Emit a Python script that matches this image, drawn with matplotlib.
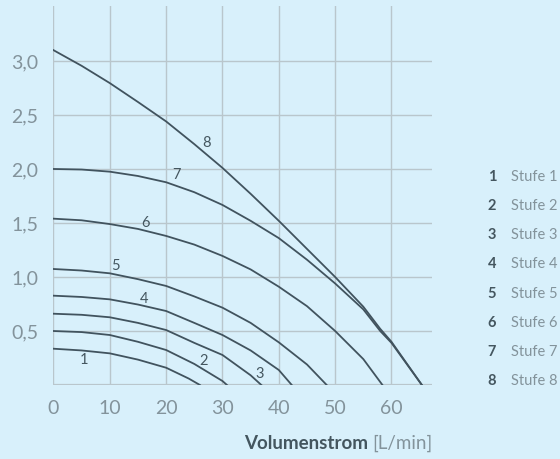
import numpy as np
import matplotlib
matplotlib.use("Agg")
import matplotlib.pyplot as plt

plt.rcParams['font.family'] = ['Lato', 'DejaVu Sans']

# Kennlinien (Volumenstrom L/min, Förderhöhe) je Stufe
stufe1_x = [0, 5, 10, 15, 20, 24, 26]
stufe1_y = [0.336, 0.32, 0.293, 0.235, 0.16, 0.06, 0]
stufe2_x = [0, 5, 10, 15, 20, 25, 30, 30.8]
stufe2_y = [0.5, 0.49, 0.463, 0.4, 0.324, 0.195, 0.037, 0]
stufe3_x = [0, 5, 10, 15, 20, 25, 30, 35, 36.9]
stufe3_y = [0.66, 0.65, 0.627, 0.575, 0.509, 0.39, 0.278, 0.09, 0]
stufe4_x = [0, 5, 10, 15, 20, 25, 30, 35, 40, 42.3]
stufe4_y = [0.827, 0.815, 0.793, 0.745, 0.685, 0.575, 0.463, 0.32, 0.139, 0]
stufe5_x = [0, 5, 10, 15, 20, 25, 30, 35, 40, 45, 48.5]
stufe5_y = [1.074, 1.06, 1.034, 0.98, 0.917, 0.82, 0.716, 0.575, 0.395, 0.19, 0]
stufe6_x = [0, 5, 10, 15, 20, 25, 30, 35, 40, 45, 50, 55, 58.4]
stufe6_y = [1.54, 1.525, 1.49, 1.445, 1.38, 1.30, 1.195, 1.07, 0.91, 0.73, 0.50, 0.24, 0]
stufe7_x = [0, 5, 10, 15, 20, 25, 30, 35, 40, 45, 50, 55, 58, 60, 65.4]
stufe7_y = [2.0, 1.995, 1.975, 1.935, 1.877, 1.785, 1.667, 1.52, 1.36, 1.16, 0.94, 0.70, 0.50, 0.39, 0]
stufe8_x = [0, 5, 10, 15, 20, 25, 30, 35, 40, 45, 50, 55, 58, 60, 65.4]
stufe8_y = [3.10, 2.955, 2.795, 2.62, 2.44, 2.23, 2.01, 1.77, 1.52, 1.26, 1.0, 0.725, 0.52, 0.40, 0]

kurven = [(stufe1_x, stufe1_y), (stufe2_x, stufe2_y), (stufe3_x, stufe3_y),
          (stufe4_x, stufe4_y), (stufe5_x, stufe5_y), (stufe6_x, stufe6_y),
          (stufe7_x, stufe7_y), (stufe8_x, stufe8_y)]
nummern = ['1', '2', '3', '4', '5', '6', '7', '8']
legende = ['Stufe 1', 'Stufe 2', 'Stufe 3', 'Stufe 4', 'Stufe 5', 'Stufe 6', 'Stufe 7', 'Stufe 8']
label_pos = [(5.5, 0.23), (26.7, 0.22), (36.6, 0.10), (16.0, 0.80),
             (11.0, 1.10), (16.4, 1.50), (21.8, 1.94), (27.1, 2.24)]

x_ticks = [0, 10, 20, 30, 40, 50, 60]
y_ticks = [0.5, 1.0, 1.5, 2.0, 2.5, 3.0]
y_ticklabels = ['0,5', '1,0', '1,5', '2,0', '2,5', '3,0']

BG = '#d8f0fb'
GRID = '#b9c6cc'
LINE = '#41535e'
TICK = '#83939b'
DARK = '#44565f'

fig = plt.figure(figsize=(5.6, 4.59), dpi=100, facecolor=BG)
ax = fig.add_axes([0.0955, 0.1612, 0.676, 0.826])
ax.set_facecolor(BG)
for s in ax.spines.values():
    s.set_visible(False)

ax.set_xlim(0, 67.2)
ax.set_ylim(0, 3.51)
ax.set_xticks(x_ticks)
ax.set_yticks(y_ticks)
ax.set_yticklabels(y_ticklabels)
ax.grid(True, color=GRID, linewidth=1.0)
ax.set_axisbelow(True)
ax.axhline(0, color=GRID, linewidth=1.6, zorder=1)
ax.tick_params(length=0, labelsize=14, labelcolor=TICK)
ax.tick_params(axis='y', pad=11)
ax.tick_params(axis='x', pad=11)

for (kx, ky) in kurven:
    ax.plot(kx, ky, color=LINE, linewidth=1.3, zorder=3)

for n, (lx, ly) in zip(nummern, label_pos):
    ax.text(lx, ly, n, ha='center', va='center', fontsize=10.5, color=DARK, zorder=4)

# Legende rechts
for i, (n, l) in enumerate(zip(nummern, legende)):
    yy = 1 - (176.7 + i * 29.2) / 459
    fig.text(0.886, yy, n, ha='right', va='center', fontsize=10.5, color=DARK, fontweight='bold')
    fig.text(0.912, yy, l, ha='left', va='center', fontsize=10.5, color=TICK)

# Achsenbeschriftung
unit = fig.text(433 / 560, 1 - 443 / 459, '[L/min]', ha='right', va='center',
                fontsize=13.5, color=TICK)
ax.annotate('Volumenstrom ', xy=(0, 0), xycoords=unit, ha='right', va='bottom',
            fontsize=13.5, color=DARK, fontweight='bold', annotation_clip=False)

fig.savefig('out.png', dpi=100, facecolor=BG)
